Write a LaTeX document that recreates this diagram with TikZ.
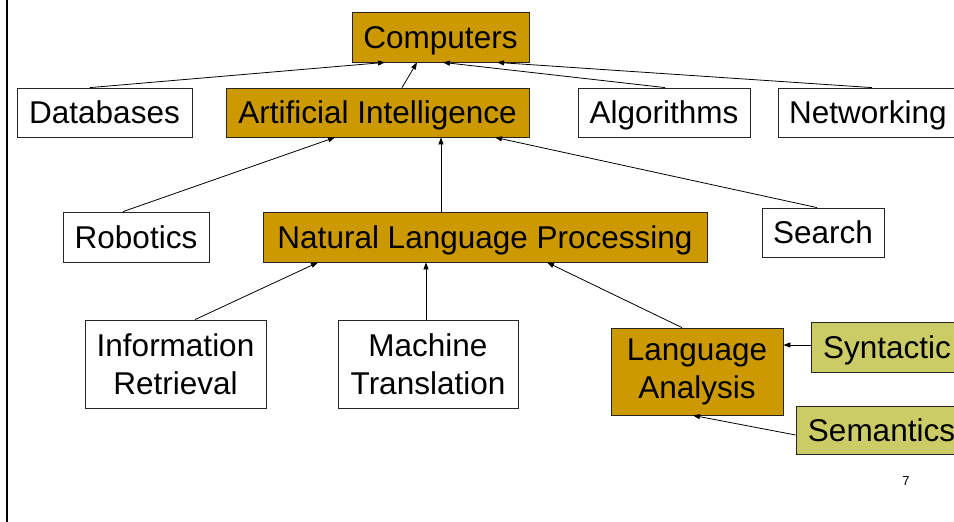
\documentclass[tikz,border=0pt]{standalone}
\usepackage{fontspec}
\setmainfont{Liberation Sans}
\usetikzlibrary{arrows.meta}
\definecolor{gold}{RGB}{204,153,0}
\definecolor{olive}{RGB}{204,204,102}
\tikzset{
  box/.style={draw=black!85, line width=0.8pt, inner sep=0pt, align=center,
    font=\fontsize{31.5}{38}\selectfont},
  oneline/.style={text height=22.6pt, text depth=0pt},
  plainbox/.style={box, fill=white},
  goldbox/.style={box, fill=gold},
  olivebox/.style={box, fill=olive},
  link/.style={line width=0.8pt, -{Triangle[length=7pt,width=5pt]}}
}
\begin{document}
\begin{tikzpicture}[x=1pt, y=-1pt]
  \useasboundingbox (0,0) rectangle (954,522);
  % left rule
  \draw[line width=2.5pt] (7,0) -- (7,522);

  % top level
  \node[goldbox, oneline, minimum width=177pt, minimum height=50pt] (comp) at (440.5,37) {Computers};

  % second level
  \node[plainbox, oneline, minimum width=175pt, minimum height=49pt] (db) at (104.5,112.5) {Databases};
  \node[goldbox, oneline, minimum width=303pt, minimum height=49pt] (ai) at (377.5,112.5) {Artificial Intelligence};
  \node[plainbox, oneline, minimum width=172pt, minimum height=49pt] (alg) at (664,112.5) {Algorithms};
  \node[plainbox, oneline, minimum width=180pt, minimum height=49pt] (net) at (868,112.5) {Networking};

  % third level
  \node[plainbox, oneline, minimum width=146pt, minimum height=50pt] (rob) at (136,237) {Robotics};
  \node[goldbox, oneline, minimum width=444pt, minimum height=50pt] (nlp) at (485,237) {Natural Language Processing};
  \node[plainbox, oneline, minimum width=122pt, minimum height=49pt] (search) at (823,232.5) {Search};

  % fourth level
  \node[plainbox, minimum width=181pt, minimum height=88pt] (ir) at (175.5,364) {Information\\Retrieval};
  \node[plainbox, minimum width=180pt, minimum height=88pt] (mt) at (428,364) {Machine\\Translation};
  \node[goldbox, minimum width=172pt, minimum height=87pt] (la) at (697,371.5) {Language\\Analysis};
  \node[olivebox, oneline, minimum width=152pt, minimum height=50pt] (syn) at (887,347) {Syntactic};
  \node[olivebox, oneline, minimum width=171pt, minimum height=48pt] (sem) at (881.5,430) {Semantics};

  % page number
  \node[font=\fontsize{13}{15}\selectfont] (pg) at (906,481) {7};

  % connectors
  \draw[link] ([xshift=-14.5pt]db.north) -- ([xshift=-55.5pt]comp.south);
  \draw[link] ([xshift=24.5pt]ai.north) -- ([xshift=-23.5pt]comp.south);
  \draw[link] ([xshift=1pt]alg.north) -- ([xshift=2.5pt]comp.south);
  \draw[link] ([xshift=4pt]net.north) -- ([xshift=56.5pt]comp.south);

  \draw[link] ([xshift=-13pt]rob.north) -- ([xshift=-42.5pt]ai.south);
  \draw[link] ([xshift=-44pt]nlp.north) -- ([xshift=63.5pt]ai.south);
  \draw[link] ([xshift=-6pt]search.north) -- ([xshift=117.5pt]ai.south);

  \draw[link] ([xshift=19.5pt]ir.north) -- ([xshift=-167pt]nlp.south);
  \draw[link] ([xshift=-2pt]mt.north) -- ([xshift=-59pt]nlp.south);
  \draw[link] ([xshift=-15pt]la.north) -- ([xshift=62pt]nlp.south);

  \draw[link] ([yshift=2pt]syn.west) -- ([yshift=2pt]syn.west -| la.east);
  \draw[link] ([yshift=-5pt]sem.west) -- ([xshift=-4pt]la.south);
\end{tikzpicture}
\end{document}
